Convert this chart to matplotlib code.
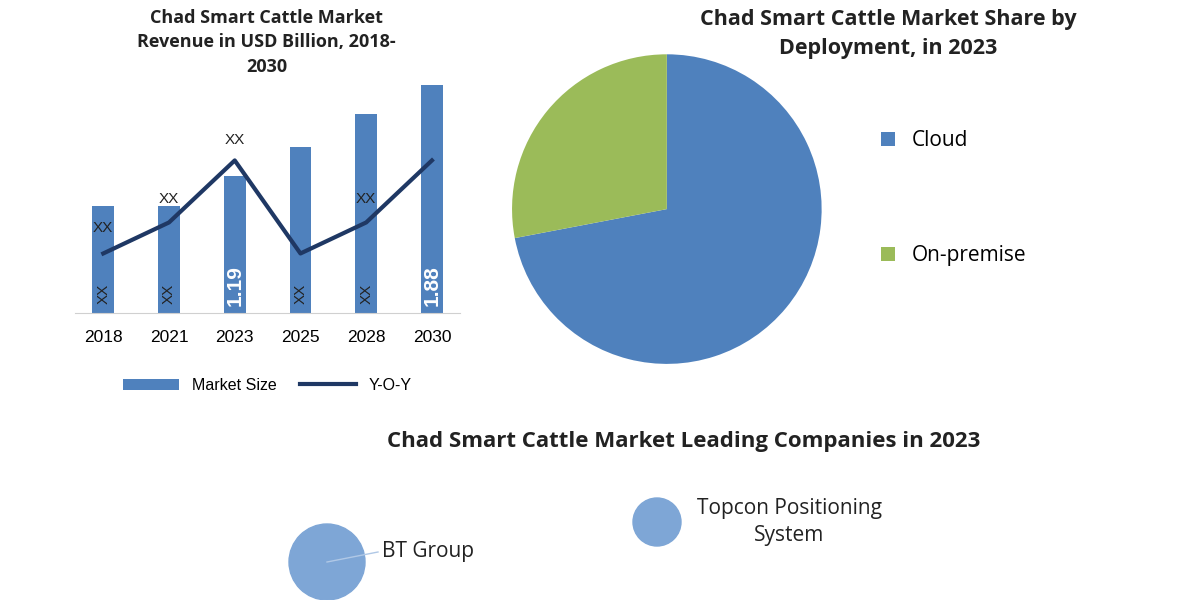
import matplotlib.pyplot as plt
from matplotlib.patches import Circle

plt.rcParams['font.family'] = ['Open Sans', 'DejaVu Sans']

# bar + line chart data
years = ['2018', '2021', '2023', '2025', '2028', '2030']
market_size = [0.93, 0.93, 1.19, 1.45, 1.73, 1.99]
bar_labels = ['XX', 'XX', '1.19', 'XX', 'XX', '1.88']
yoy = [0.52, 0.79, 1.33, 0.52, 0.79, 1.33]
yoy_labels = ['XX', 'XX', 'XX', '', 'XX', '']
yoy_label_y = [0.68, 0.93, 1.45, 0, 0.93, 0]

# pie data
deploy = ['Cloud', 'On-premise']
share = [72, 28]
pie_colors = ['#4f81bd', '#9bbb59']

# companies
companies = ['BT Group', 'Topcon Positioning\nSystem']

blue = '#4f81bd'
navy = '#1f3864'
fig = plt.figure(figsize=(12, 6), dpi=100)

# --- bar chart
ax = fig.add_axes([0.0625, 0.478, 0.321, 0.381])
x = range(len(years))
bars = ax.bar(x, market_size, width=0.33, color=blue, label='Market Size')
line, = ax.plot(x, yoy, color=navy, lw=3, label='Y-O-Y')
for i in x:
    if bar_labels[i] == 'XX':
        ax.text(i, 0.08, 'XX', rotation=90, ha='center', va='bottom', fontsize=11,
                color='#222', family='Liberation Sans')
    else:
        ax.text(i, 0.06, bar_labels[i], rotation=90, ha='center', va='bottom',
                fontsize=15, fontweight='bold', color='white', family='Liberation Sans')
    if yoy_labels[i]:
        ax.text(i, yoy_label_y[i], 'XX', ha='center', va='bottom', fontsize=11,
                color='#222', family='Liberation Sans')
ax.set_xlim(-0.43, 5.43)
ax.set_ylim(0, 1.99)
ax.set_yticks([])
ax.set_xticks(list(x))
ax.set_xticklabels(years, fontsize=12.5, family='Liberation Sans')
ax.tick_params(axis='x', length=0, pad=12)
for s in ['top', 'right', 'left']:
    ax.spines[s].set_visible(False)
ax.spines['bottom'].set_color('#d0d0d0')
ax.legend([bars, line], ['Market Size', 'Y-O-Y'], loc='upper center', bbox_to_anchor=(0.5, -0.22),
          ncol=2, frameon=False, prop={'family': 'Liberation Sans', 'size': 11.5},
          handlelength=3.5, columnspacing=1.5)
fig.text(0.222, 0.985, 'Chad Smart Cattle Market\nRevenue in USD Billion, 2018-\n2030',
         ha='center', va='top', fontsize=13, fontweight='bold', linespacing=1.45, color='#222')

# --- pie chart
pax = fig.add_axes([0.4267, 0.393, 0.258, 0.517])
wedges, _ = pax.pie(share, colors=pie_colors, startangle=90, counterclock=False)
pax.set_xlim(-1, 1)
pax.set_ylim(-1, 1)
pax.set_aspect('equal')
fig.text(0.74, 0.985, 'Chad Smart Cattle Market Share by\nDeployment, in 2023',
         ha='center', va='top', fontsize=15.5, fontweight='bold', linespacing=1.5, color='#222')
pax.legend(wedges, deploy, loc='center left', bbox_to_anchor=(1.13, 0.535), frameon=False,
           fontsize=15, handlelength=0.7, handleheight=0.7, labelspacing=4.5)

# --- leading companies
fig.text(0.57, 0.265, 'Chad Smart Cattle Market Leading Companies in 2023',
         ha='center', va='center', fontsize=16, fontweight='bold', color='#222')
bax = fig.add_axes([0, 0, 1, 0.2])
bax.set_xlim(0, 1200)
bax.set_ylim(0, 120)
bax.axis('off')
bax.add_patch(Circle((327, 38), 38, color='#7ea6d6', clip_on=False))
bax.add_patch(Circle((657, 78), 24, color='#7ea6d6'))
bax.plot([327, 378], [38, 48], color='#b0c8e6', lw=1)
bax.text(382, 48, companies[0], fontsize=15, va='center', color='#222')
bax.text(697, 78, companies[1], fontsize=15, va='center', ha='left', color='#222',
         linespacing=1.4, multialignment='center')

fig.savefig('out.png')
